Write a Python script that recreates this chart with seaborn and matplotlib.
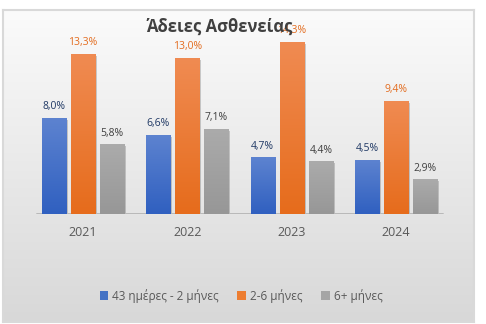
import numpy as np
import pandas as pd
import matplotlib
matplotlib.use("Agg")
import matplotlib.pyplot as plt
import matplotlib.patheffects as pe
from matplotlib.colors import LinearSegmentedColormap
import seaborn as sns

# Sick-leave shares per year and duration band (%)
years = ["2021", "2022", "2023", "2024"]
groups = ["43 ημέρες - 2 μήνες", "2-6 μήνες", "6+ μήνες"]
short_leave = [8.0, 6.6, 4.7, 4.5]
mid_leave = [13.3, 13.0, 14.3, 9.4]
long_leave = [5.8, 7.1, 4.4, 2.9]
title = "Άδειες Ασθενείας"

base_colors = ["#4472c4", "#ed7d31", "#a5a5a5"]
grad_colors = [("#3060c0", "#5d83d0"), ("#e66c1c", "#f08b52"), ("#979797", "#ababab")]
label_colors = ["#1f3864", "#e36c1f", "#404040"]

df = pd.DataFrame({
    "year": years * 3,
    "group": np.repeat(groups, len(years)),
    "pct": short_leave + mid_leave + long_leave,
})

sns.set_theme(style="white")
plt.rcParams["font.family"] = ["Open Sans", "DejaVu Sans"]

W, H = 486, 324
fig = plt.figure(figsize=(W / 100, H / 100), dpi=100)
fig.patch.set_facecolor("white")

# Chart-area panel with a soft vertical gradient
bg = fig.add_axes([3 / W, 2 / H, 471 / W, 312 / H], zorder=-1)
bg_cmap = LinearSegmentedColormap.from_list("bg", ["#d8d8d8", "#fbfbfb"])
bg.imshow(np.linspace(0, 1, 256).reshape(-1, 1), aspect="auto", cmap=bg_cmap,
          origin="lower", extent=[0, 1, 0, 1])
bg.set_xticks([])
bg.set_yticks([])
for s in bg.spines.values():
    s.set_color("#d9d9d9")
    s.set_linewidth(1.5)

ax = fig.add_axes([30.8 / W, 110 / H, 417.6 / W, 192.5 / H])
ax.patch.set_alpha(0)
sns.barplot(data=df, x="year", y="pct", hue="group", hue_order=groups,
            palette=base_colors, saturation=1, width=0.834, gap=0.17,
            linewidth=0, ax=ax, errorbar=None)

handles, labels = ax.get_legend_handles_labels()
if ax.get_legend() is not None:
    ax.get_legend().remove()

ax.axhline(0, xmin=0.015, xmax=0.987, color="#b8b8b8", lw=1.4, zorder=1)

for container, (c0, c1), lc in zip(ax.containers, grad_colors, label_colors):
    cmap = LinearSegmentedColormap.from_list("g", [c0, c1])
    for patch in container:
        patch.set_path_effects([
            pe.SimplePatchShadow(offset=(1.2, -1.5), shadow_rgbFace="black", alpha=0.18),
            pe.Normal(),
        ])
        x0, y0 = patch.get_xy()
        w, h = patch.get_width(), patch.get_height()
        im = ax.imshow(np.linspace(0, 1, 64).reshape(-1, 1), cmap=cmap, aspect="auto",
                       origin="lower", extent=[x0, x0 + w, y0, y0 + h],
                       zorder=patch.get_zorder() + 0.1)
        im.set_clip_path(patch)
    vals = container.datavalues
    ax.bar_label(container, labels=[f"{v:.1f}".replace(".", ",") + "%" for v in vals],
                 padding=4, color=lc, fontsize=7.5)

ax.set_xlim(-0.5, 3.5)
ax.set_ylim(0, 16)
ax.set_xlabel("")
ax.set_ylabel("")
ax.set_yticks([])
ax.tick_params(axis="x", length=0, pad=9, labelsize=9, labelcolor="#595959")
sns.despine(ax=ax, left=True, bottom=True)

fig.text(220 / W, 1 - 27 / H, title, ha="center", va="center",
         fontsize=12, fontweight="bold", color="#404040", zorder=10)

fig.legend(handles, labels, loc="center", bbox_to_anchor=(241 / W, 28 / H), ncol=3,
           frameon=False, fontsize=8.5, handlelength=0.75, handleheight=0.75,
           handletextpad=0.3, columnspacing=1.6, labelcolor="#595959")

fig.savefig("out.png", dpi=100)
